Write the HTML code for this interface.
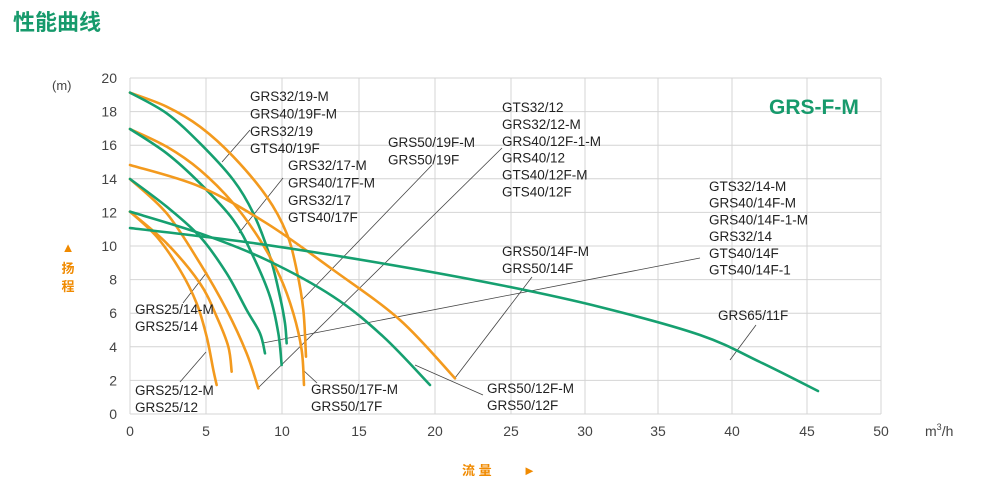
<!DOCTYPE html>
<html><head><meta charset="utf-8"><style>
body{margin:0;background:#fff;width:993px;height:488px;overflow:hidden}
svg{display:block}
text{font-family:"Liberation Sans","Noto Sans CJK SC",sans-serif}
</style></head><body>
<svg id="s" width="993" height="488" viewBox="0 0 993 488">
<text x="13" y="30" font-size="22" font-weight="bold" fill="#179a6c" font-family="'Noto Sans CJK SC',sans-serif">性能曲线</text>
<g id="grid" stroke="#d4d4d4" stroke-width="1"></g>
<g id="ylab" font-size="14" fill="#444" text-anchor="end"></g>
<g id="xlab" font-size="14" fill="#444" text-anchor="middle"></g>
<text x="52" y="90" font-size="13" fill="#444">(m)</text>
<text x="68" y="252" font-size="13" fill="#f08a00" text-anchor="middle">▲</text>
<text x="68" y="273" font-size="13" font-weight="bold" fill="#f08a00" text-anchor="middle">扬</text>
<text x="68" y="291" font-size="13" font-weight="bold" fill="#f08a00" text-anchor="middle">程</text>
<text x="462" y="475" font-size="13" font-weight="bold" fill="#f08a00">流 量</text>
<text x="523" y="475" font-size="13" fill="#f08a00">►</text>
<text x="925" y="436" font-size="14" fill="#444">m<tspan font-size="9" dy="-6">3</tspan><tspan dy="6">/h</tspan></text>
<text x="769" y="114" font-size="21" font-weight="bold" fill="#179a6c">GRS-F-M</text>
<g id="leaders" stroke="#444" stroke-width="0.8" fill="none">
<line x1="222" y1="162" x2="250" y2="130"/>
<line x1="239" y1="233" x2="283" y2="178"/>
<line x1="207" y1="272" x2="183" y2="303"/>
<line x1="206" y1="352" x2="180" y2="382"/>
<line x1="302" y1="300" x2="432" y2="165"/>
<line x1="258" y1="388" x2="502" y2="148"/>
<line x1="303" y1="370" x2="317" y2="383"/>
<line x1="263" y1="343" x2="700" y2="258"/>
<line x1="455" y1="378" x2="532" y2="277"/>
<line x1="415" y1="365" x2="483" y2="395"/>
<line x1="730" y1="360" x2="756" y2="325"/>
</g>
<g id="curves" fill="none" stroke-width="2.6" stroke-linecap="round"></g>
<g font-size="13.5" fill="#222" id="labels"></g>
</svg>
<script>
const NS="http://www.w3.org/2000/svg";
const xs=[130,206,282,359,435,511,585,658,732,807,881];
const g=document.getElementById('grid'),yl=document.getElementById('ylab'),xl=document.getElementById('xlab');
function el(t,a,p,txt){const e=document.createElementNS(NS,t);for(const k in a)e.setAttribute(k,a[k]);if(txt!=null)e.textContent=txt;p.appendChild(e);return e;}
for(let i=0;i<=10;i++){const y=414-i*33.6;el('line',{x1:130,x2:881,y1:y,y2:y},g);el('text',{x:117,y:y+5},yl,String(i*2));}
xs.forEach((x,i)=>{el('line',{x1:x,x2:x,y1:78,y2:414},g);el('text',{x:x,y:436},xl,String(i*5));});
const Z=p=>p.map(([a,b])=>[100+a/3,70+b/3]);
const O="#f39a1e",G="#16a070";
const curves=[
[O,Z([[90,68],[200,110],[300,170],[400,260],[500,380],[560,490],[590,600],[610,720],[618,860]])],
[G,Z([[90,68],[200,130],[300,220],[400,330],[460,430],[510,560],[540,680],[555,760],[560,820]])],
[O,Z([[90,177],[200,230],[300,300],[400,400],[480,510],[540,620],[580,730],[605,840],[612,945]])],
[G,Z([[90,177],[200,250],[300,340],[400,450],[460,560],[510,680],[535,790],[545,885]])],
[O,Z([[90,285],[300,350],[500,460],[700,600],[900,750],[1065,925]])],
[O,Z([[90,327],[200,430],[300,580],[380,720],[440,850],[475,955]])],
[G,Z([[90,327],[200,410],[300,500],[380,610],[440,720],[480,790],[495,850]])],
[O,Z([[90,425],[170,500],[240,600],[290,700],[320,800],[340,900],[350,945]])],
[O,Z([[90,425],[200,520],[300,640],[350,740],[385,830],[395,905]])],
[G,Z([[90,425],[300,490],[500,570],[700,680],[850,800],[990,945]])],
[G,[[130,228],[253,243],[380,263],[500,285],[600,307],[700,335],[760,362],[818,391]]]
];
const cg=document.getElementById('curves');
curves.forEach(([c,p])=>{let d=`M${p[0][0]},${p[0][1]}`;for(let i=0;i<p.length-1;i++){const p0=p[i-1]||p[i],p1=p[i],p2=p[i+1],p3=p[i+2]||p2;
const c1=[p1[0]+(p2[0]-p0[0])/6,p1[1]+(p2[1]-p0[1])/6],c2=[p2[0]-(p3[0]-p1[0])/6,p2[1]-(p3[1]-p1[1])/6];
d+=` C${c1[0]},${c1[1]} ${c2[0]},${c2[1]} ${p2[0]},${p2[1]}`;}el('path',{d:d,stroke:c},cg);});
const lg=document.getElementById('labels');
function L(x,y0,step,arr){arr.forEach((t,i)=>el('text',{x:x,y:y0+i*step},lg,t));}
L(250,101,17.4,["GRS32/19-M","GRS40/19F-M","GRS32/19","GTS40/19F"]);
L(288,170,17.4,["GRS32/17-M","GRS40/17F-M","GRS32/17","GTS40/17F"]);
L(388,147,17.4,["GRS50/19F-M","GRS50/19F"]);
L(502,112,16.9,["GTS32/12","GRS32/12-M","GRS40/12F-1-M","GRS40/12","GTS40/12F-M","GTS40/12F"]);
L(709,191,16.7,["GTS32/14-M","GRS40/14F-M","GRS40/14F-1-M","GRS32/14","GTS40/14F","GTS40/14F-1"]);
L(502,256,17,["GRS50/14F-M","GRS50/14F"]);
L(718,320,17,["GRS65/11F"]);
L(135,314,17,["GRS25/14-M","GRS25/14"]);
L(135,395,17,["GRS25/12-M","GRS25/12"]);
L(311,394,17,["GRS50/17F-M","GRS50/17F"]);
L(487,393,17,["GRS50/12F-M","GRS50/12F"]);
</script>
</body></html>
